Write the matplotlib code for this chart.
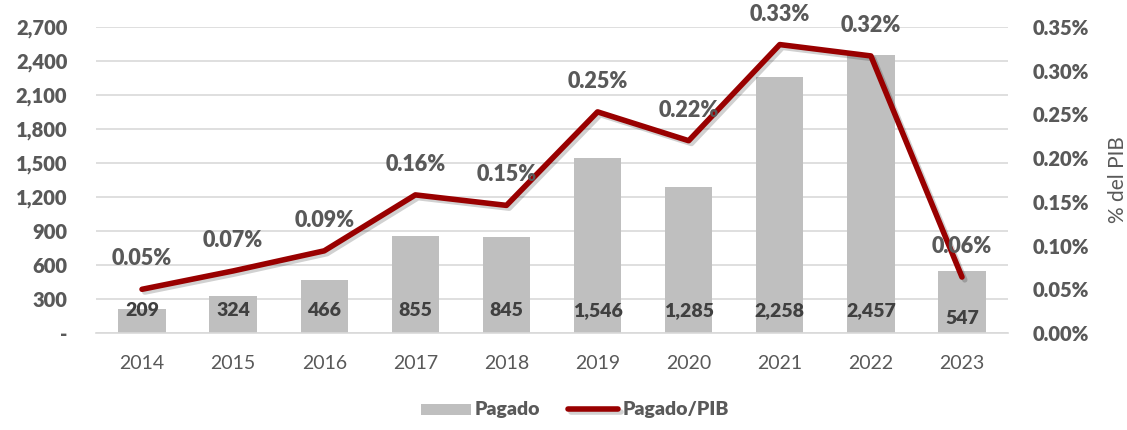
import numpy as np
import matplotlib
matplotlib.use('Agg')
import matplotlib.pyplot as plt
import matplotlib.patheffects as pe

years = ['2014', '2015', '2016', '2017', '2018', '2019', '2020', '2021', '2022', '2023']
pagado = [209, 324, 466, 855, 845, 1546, 1285, 2258, 2457, 547]
pib_pct = [0.050, 0.071, 0.094, 0.158, 0.146, 0.253, 0.220, 0.330, 0.317, 0.064]

left_ticks = [0, 300, 600, 900, 1200, 1500, 1800, 2100, 2400, 2700]
right_ticks = [0, 0.05, 0.10, 0.15, 0.20, 0.25, 0.30, 0.35]

grey_txt = '#595959'
bar_col = '#BFBFBF'
line_col = '#990000'
plt.rcParams['font.family'] = ['Lato', 'DejaVu Sans']
heavy = 'heavy'

fig = plt.figure(figsize=(11.27, 4.30), dpi=100)
ax = fig.add_axes([0.0856, 0.2256, 0.8084, 0.7114])
x = np.arange(len(years))

# bars (left axis)
ax.bar(x, pagado, width=0.52, color=bar_col, zorder=2, label='Pagado')
ax.set_ylim(0, 2700)
ax.set_xlim(-0.5, len(years) - 0.5)
ax.set_yticks(left_ticks, ['-' if v == 0 else f'{v:,}' for v in left_ticks],
              fontsize=14.5, fontweight=heavy, color=grey_txt)
ax.grid(axis='y', color='#D9D9D9', linewidth=1.2, zorder=0)
ax.set_xticks(x, years, fontsize=14, color=grey_txt)
for s in ['top', 'right', 'left']:
    ax.spines[s].set_visible(False)
ax.spines['bottom'].set_color('#D9D9D9')
ax.spines['bottom'].set_linewidth(1.2)
ax.tick_params(axis='both', length=0)
ax.tick_params(axis='y', pad=21)
ax.tick_params(axis='x', pad=16)

for xi, v in zip(x, pagado):
    ypos = 200 if v > 560 or v < 500 else 130
    ax.text(xi, ypos, f'{v:,}', ha='center', va='center', fontsize=14,
            fontweight=heavy, color='#404040', zorder=5)

# line (right axis)
ax2 = ax.twinx()
ax2.plot(x, pib_pct, color=line_col, linewidth=4, solid_capstyle='round',
         zorder=3, label='Pagado/PIB',
         path_effects=[pe.SimpleLineShadow(offset=(2, -2), alpha=0.18), pe.Normal()])
ax2.set_ylim(0, 0.35)
ax2.set_yticks(right_ticks, [f'{v:.2f}%' for v in right_ticks],
               fontsize=14.5, fontweight=heavy, color=grey_txt)
for s in ax2.spines.values():
    s.set_visible(False)
ax2.tick_params(axis='y', length=0, pad=18)
ax2.set_ylabel('% del PIB', fontsize=15, color=grey_txt, labelpad=14)

for xi, v in zip(x, pib_pct):
    ax2.annotate(f'{v:.2f}%', (xi, v), xytext=(0, 22), textcoords='offset points',
                 ha='center', va='center', fontsize=15.5, fontweight=heavy,
                 color=grey_txt, zorder=6)

h1, l1 = ax.get_legend_handles_labels()
h2, l2 = ax2.get_legend_handles_labels()
leg = fig.legend(h1 + h2, l1 + l2, loc='lower center', bbox_to_anchor=(0.51, 0.0),
                 ncol=2, frameon=False, handlelength=3.6, handleheight=0.9,
                 columnspacing=2.0, handletextpad=0.3)
for t in leg.get_texts():
    t.set_fontsize(14)
    t.set_fontweight(heavy)
    t.set_color(grey_txt)

fig.savefig('out.png', dpi=100)
